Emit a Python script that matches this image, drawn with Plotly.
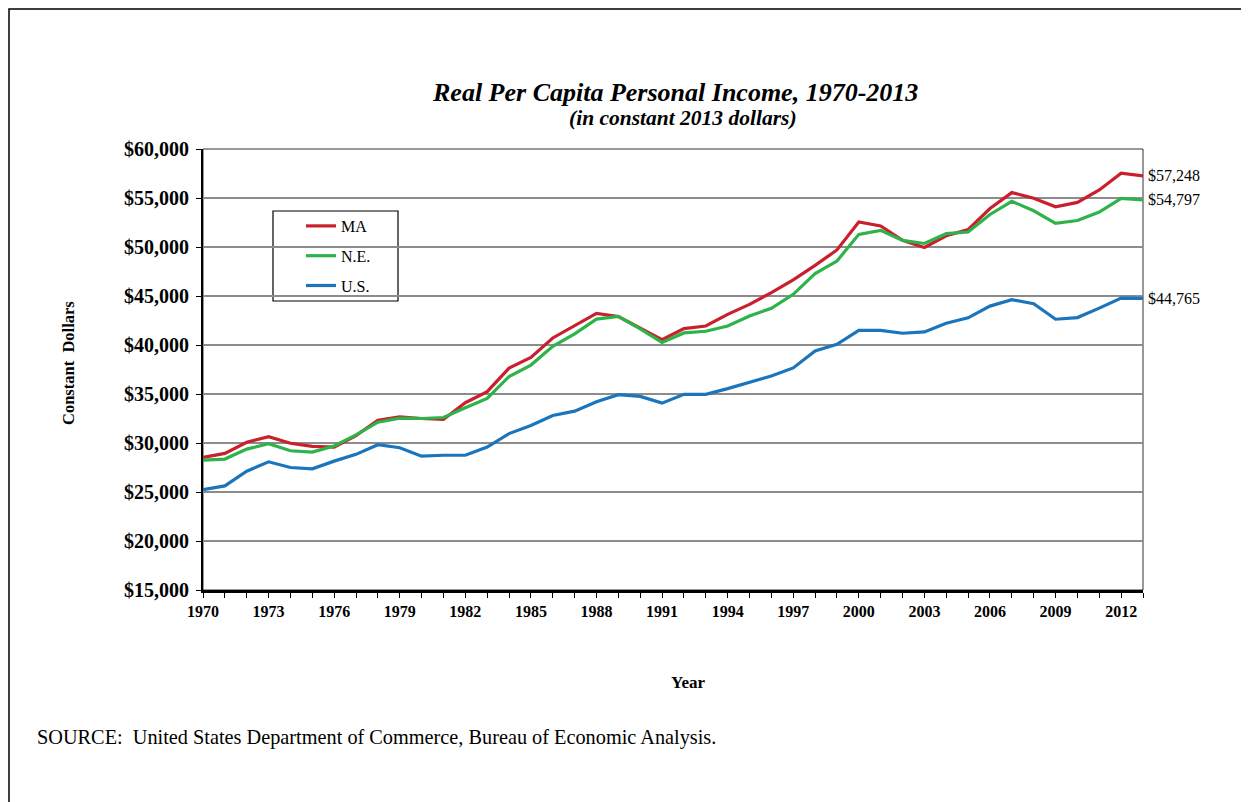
import plotly.graph_objects as go

years = list(range(1970, 2014))

ma = [28530, 28940, 30070, 30650, 29970, 29660, 29590, 30750, 32330, 32670,
      32500, 32400, 34110, 35240, 37640, 38730, 40720, 41990, 43220, 42910,
      41710, 40550, 41670, 41940, 43130, 44150, 45340, 46640, 48130, 49700,
      52550, 52140, 50680, 49950, 51150, 51770, 53930, 55550, 54970, 54110,
      54550, 55820, 57540, 57248]

ne = [28250, 28360, 29380, 29930, 29210, 29080, 29690, 30820, 32120, 32540,
      32500, 32600, 33600, 34550, 36780, 37950, 39860, 41130, 42640, 42910,
      41640, 40270, 41230, 41400, 41940, 42960, 43750, 45170, 47280, 48570,
      51290, 51700, 50680, 50360, 51360, 51530, 53320, 54660, 53700, 52420,
      52700, 53560, 54970, 54797]

us = [25240, 25620, 27120, 28080, 27500, 27360, 28150, 28840, 29830, 29520,
      28660, 28750, 28750, 29590, 30960, 31780, 32810, 33250, 34210, 34930,
      34760, 34070, 34970, 34970, 35550, 36160, 36840, 37660, 39400, 40070,
      41500, 41500, 41200, 41330, 42220, 42770, 43970, 44620, 44210, 42630,
      42800, 43760, 44790, 44765]

series_names = ["MA", "N.E.", "U.S."]
series_values = [ma, ne, us]
series_colors = ["#C8202D", "#2DB34A", "#1B75BC"]
end_labels = ["$57,248", "$54,797", "$44,765"]

x_tickvals = list(range(1970, 2014, 3))

SERIF = "Liberation Serif"

# page geometry (page body has an 8px margin; figure is 1241x794)
OFF = 8
FW, FH = 1249 - OFF, 802 - OFF
L, R, T, B = 203, 1143, 149, 590          # plot area, page pixels
W, H = R - L, B - T
def px(xp):
    return (xp - L) / W
def py(yp):
    return (B - yp) / H

fig = go.Figure()
for name, vals, col in zip(series_names, series_values, series_colors):
    fig.add_trace(go.Scatter(
        x=years, y=vals, mode="lines", name=name, legendgroup=name,
        line=dict(color=col, width=3.2)))

annotations = []
for vals, lab in zip(series_values, end_labels):
    annotations.append(dict(
        x=years[-1], y=vals[-1], xref="x", yref="y", text=lab,
        showarrow=False, xanchor="left", yanchor="middle", xshift=3,
        font=dict(family=SERIF, size=16, color="black")))

annotations += [
    dict(x=px(675), y=py(92), xref="paper", yref="paper",
         text="<b><i>Real Per Capita Personal Income, 1970-2013</i></b>",
         showarrow=False, xanchor="center", yanchor="middle",
         font=dict(family=SERIF, size=26, color="black")),
    dict(x=px(683), y=py(118), xref="paper", yref="paper",
         text="<b><i>(in constant 2013 dollars)</i></b>",
         showarrow=False, xanchor="center", yanchor="middle",
         font=dict(family=SERIF, size=21.5, color="black")),
    dict(x=px(68), y=py(363), xref="paper", yref="paper",
         text="<b>Constant  Dollars</b>", textangle=-90,
         showarrow=False, xanchor="center", yanchor="middle",
         font=dict(family=SERIF, size=16.5, color="black")),
    dict(x=px(688), y=py(682), xref="paper", yref="paper",
         text="<b>Year</b>",
         showarrow=False, xanchor="center", yanchor="middle",
         font=dict(family=SERIF, size=17, color="black")),
    dict(x=px(35), y=py(737), xref="paper", yref="paper",
         text="SOURCE:  United States Department of Commerce, Bureau of Economic Analysis.",
         showarrow=False, xanchor="left", yanchor="middle",
         font=dict(family=SERIF, size=20.3, color="black")),
]

shapes = [
    # outer frame
    dict(type="rect", xref="paper", yref="paper",
         x0=px(9), x1=px(1270), y0=py(9), y1=py(830),
         line=dict(color="black", width=1.5), fillcolor="rgba(0,0,0,0)"),
    # plot border
    dict(type="rect", xref="paper", yref="paper", x0=0, x1=1, y0=0, y1=1,
         line=dict(color="#333333", width=1), fillcolor="rgba(0,0,0,0)",
         layer="below"),
    # legend box
    dict(type="rect", xref="paper", yref="paper",
         x0=px(273), x1=px(398), y0=py(301), y1=py(211),
         line=dict(color="black", width=1.2), fillcolor="white", layer="below"),
]

fig.update_layout(
    width=FW, height=FH,
    margin=dict(l=L - OFF, r=FW - (R - OFF), t=T - OFF, b=FH - (B - OFF),
                autoexpand=False),
    paper_bgcolor="white", plot_bgcolor="white",
    showlegend=True,
    legend=dict(x=px(301), y=py(209), xanchor="left", yanchor="top",
                bgcolor="rgba(0,0,0,0)", borderwidth=0,
                tracegroupgap=6,
                font=dict(family=SERIF, size=16, color="black")),
    annotations=annotations,
    shapes=shapes,
    xaxis=dict(
        range=[1970, 2013], tickmode="array", tickvals=x_tickvals,
        ticktext=[f"<b>{v}</b>" for v in x_tickvals],
        ticks="outside", ticklen=5, tickcolor="black", tickwidth=1,
        minor=dict(dtick=1, tick0=1970, ticks="outside", ticklen=5,
                   tickcolor="black", showgrid=False),
        showgrid=False, zeroline=False,
        showline=True, linecolor="black", linewidth=3,
        tickfont=dict(family=SERIF, size=16, color="black"),
    ),
    yaxis=dict(
        range=[15000, 60000], dtick=5000, tick0=15000,
        tickprefix="<b>$", ticksuffix="</b>", tickformat=",d",
        ticks="outside", ticklen=5, tickcolor="black",
        ticklabelstandoff=3,
        showgrid=True, gridcolor="#8c8c8c", gridwidth=1.5,
        zeroline=False, showline=True, linecolor="black", linewidth=2,
        tickfont=dict(family=SERIF, size=20, color="black"),
    ),
)

fig.write_html("out.html")
